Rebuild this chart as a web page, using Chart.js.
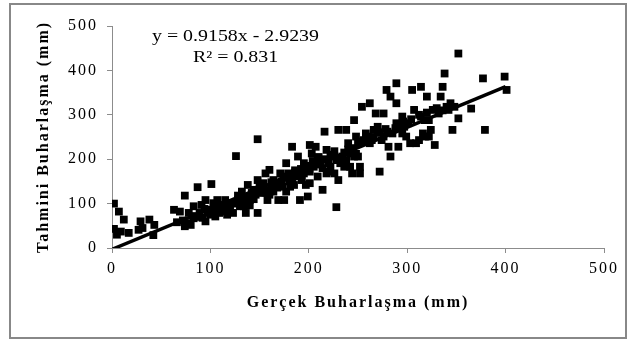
<!DOCTYPE html>
<html>
<head>
<meta charset="utf-8">
<script src="https://cdn.jsdelivr.net/npm/chart.js@4/dist/chart.umd.min.js"></script>
<style>
	body { margin: 0; background: #fff; }
</style>
</head>
<body>
<canvas id="myChart" width="632" height="340"></canvas>
<script>
// observed (Gerçek) vs estimated (Tahmini) evaporation, mm
let actual = [2,2,5,7,12,9,17,29,31,38,43,42,27,
	63,69,74,74,78,87,101,83,89,91,95,99,103,107,109,113,117,121,126,123,130,132,136,138,136,142,148,148,148,152,156,158,160,162,164,169,173,175,177,179,181,183,183,187,189,191,193,195,199,201,201,203,205,207,209,214,216,218,220,224,226,228,230,230,234,236,238,240,242,244,246,248,250,252,254,252,258,262,266,268,270,272,274,276,279,281,283,283,285,289,289,289,291,295,295,299,303,305,307,309,314,314,316,318,320,322,324,326,328,334,336,338,340,344,346,348,352,352,365,377,379,399,401,
	78,83,95,97,105,111,115,119,128,134,140,144,150,154,158,164,169,171,175,177,185,189,195,197,201,209,214,218,222,228,232,238,242,246,256,260,264,276,291,297,301,312,318,322,332,342,
	66,72,80,85,92,100,104,110,118,124,128,134,140,146,155,160,166,172,180,186,192,198,204,210,216,222,236,244,250,258,266,272,280,288,296,304,312,320,330,336,
	88,94,102,108,114,120,126,132,138,144,150,156,162,168,174,180,186,192,198,204,212,220,226,232,240,248,254,262,270,278];
let predicted = [100,43,30,82,64,37,34,60,45,64,52,29,41,
	86,82,118,49,56,137,144,67,79,97,60,86,101,108,79,86,75,101,207,79,94,127,108,142,79,124,153,79,245,124,168,108,176,138,153,108,138,108,191,168,138,228,153,168,206,108,153,191,116,232,146,213,183,228,161,131,262,221,191,206,168,92,266,153,206,183,266,236,213,168,288,251,206,183,318,168,258,326,266,303,273,172,243,303,356,228,341,206,258,371,326,281,228,296,258,251,236,356,311,236,363,296,258,251,341,288,266,311,232,341,363,393,318,326,266,318,438,292,314,382,266,386,356,
	79,94,108,79,71,97,108,86,108,94,108,131,138,146,124,127,146,168,161,127,142,161,168,142,172,198,180,168,183,198,191,198,183,206,243,251,243,251,273,273,281,243,288,251,303,311,
	58,62,52,72,68,75,90,88,92,100,118,112,96,120,130,120,140,150,160,175,178,185,196,205,200,210,215,225,235,240,250,260,262,270,285,290,300,305,315,310,
	70,88,80,95,82,92,104,98,115,110,132,125,148,136,158,150,170,162,176,190,188,172,218,200,222,212,240,236,262,268];

// fitted line y = 0.9158x - 2.9239, at x = 0 and x = 400
let trendX = [0, 400];
let trendY = [-2.92, 363.40];

let axisTicks = [0, 100, 200, 300, 400, 500];
let equationText = 'y = 0.9158x - 2.9239';
let r2Text = 'R\u00b2 = 0.831';

let serif = '"Liberation Serif", "Times New Roman", serif';

let textPlugin = {
	id: 'eqText',
	beforeDraw(chart) {
		chart.ctx.letterSpacing = '2px';
	},
	afterDraw(chart) {
		let ctx = chart.ctx;
		ctx.save();
		// outer frame
		ctx.letterSpacing = '0px';
		ctx.strokeStyle = '#888888';
		ctx.lineWidth = 2;
		ctx.strokeRect(10, 4, 616, 334);

		ctx.font = '16px ' + serif;
		ctx.fillStyle = '#000';
		ctx.textBaseline = 'alphabetic';
		let sx = 167 / ctx.measureText(equationText).width;
		ctx.save();
		ctx.translate(152, 41);
		ctx.scale(sx, 1);
		ctx.fillText(equationText, 0, 0);
		ctx.restore();
		ctx.save();
		ctx.translate(193, 62);
		ctx.scale(sx, 1);
		ctx.fillText(r2Text, 0, 0);
		ctx.restore();
		ctx.restore();
	}
};

function axisOpts(title, isX) {
	return {
		type: 'linear',
		min: 0,
		max: 500,
		afterBuildTicks: (scale) => { scale.ticks = axisTicks.map(v => ({value: v})); },
		afterFit: (scale) => {
			if (isX) scale.height = 92; else scale.width = 112;
		},
		grid: { display: true, drawOnChartArea: false, drawTicks: true, tickLength: 5, color: '#8c8c8c' },
		border: { display: true, color: '#8c8c8c', width: 1 },
		ticks: {
			color: '#000',
			font: { family: serif, size: 16 },
			padding: isX ? 6 : 9,
			maxRotation: 0,
			autoSkip: false
		},
		title: {
			display: true,
			text: title,
			color: '#000',
			font: { family: serif, size: 16, weight: 'bold' },
			padding: isX ? { top: 0, bottom: 28 } : { top: 34, bottom: 0 }
		}
	};
}

let ctx = document.getElementById('myChart');
let myChart = new Chart(ctx, {
	type: 'scatter',
	data: {
		datasets: [{
			type: 'line',
			label: 'trend',
			data: trendX.map((x, i) => ({x: x, y: trendY[i]})),
			borderColor: '#000',
			borderWidth: 3.5,
			pointRadius: 0,
			fill: false,
			order: 0
		}, {
			label: 'points',
			data: actual.map((x, i) => ({x: x, y: predicted[i]})),
			pointStyle: 'rect',
			pointRadius: 5.5,
			pointBorderWidth: 0,
			backgroundColor: '#000',
			borderColor: '#000',
			order: 1
		}]
	},
	options: {
		responsive: false,
		animation: false,
		layout: { padding: { left: 0, right: 28, top: 26, bottom: 0 } },
		plugins: { legend: { display: false }, tooltip: { enabled: false } },
		scales: {
			x: axisOpts('Gerçek Buharlaşma (mm)', true),
			y: axisOpts('Tahmini Buharlaşma (mm)', false)
		}
	},
	plugins: [textPlugin]
});
</script>
</body>
</html>
